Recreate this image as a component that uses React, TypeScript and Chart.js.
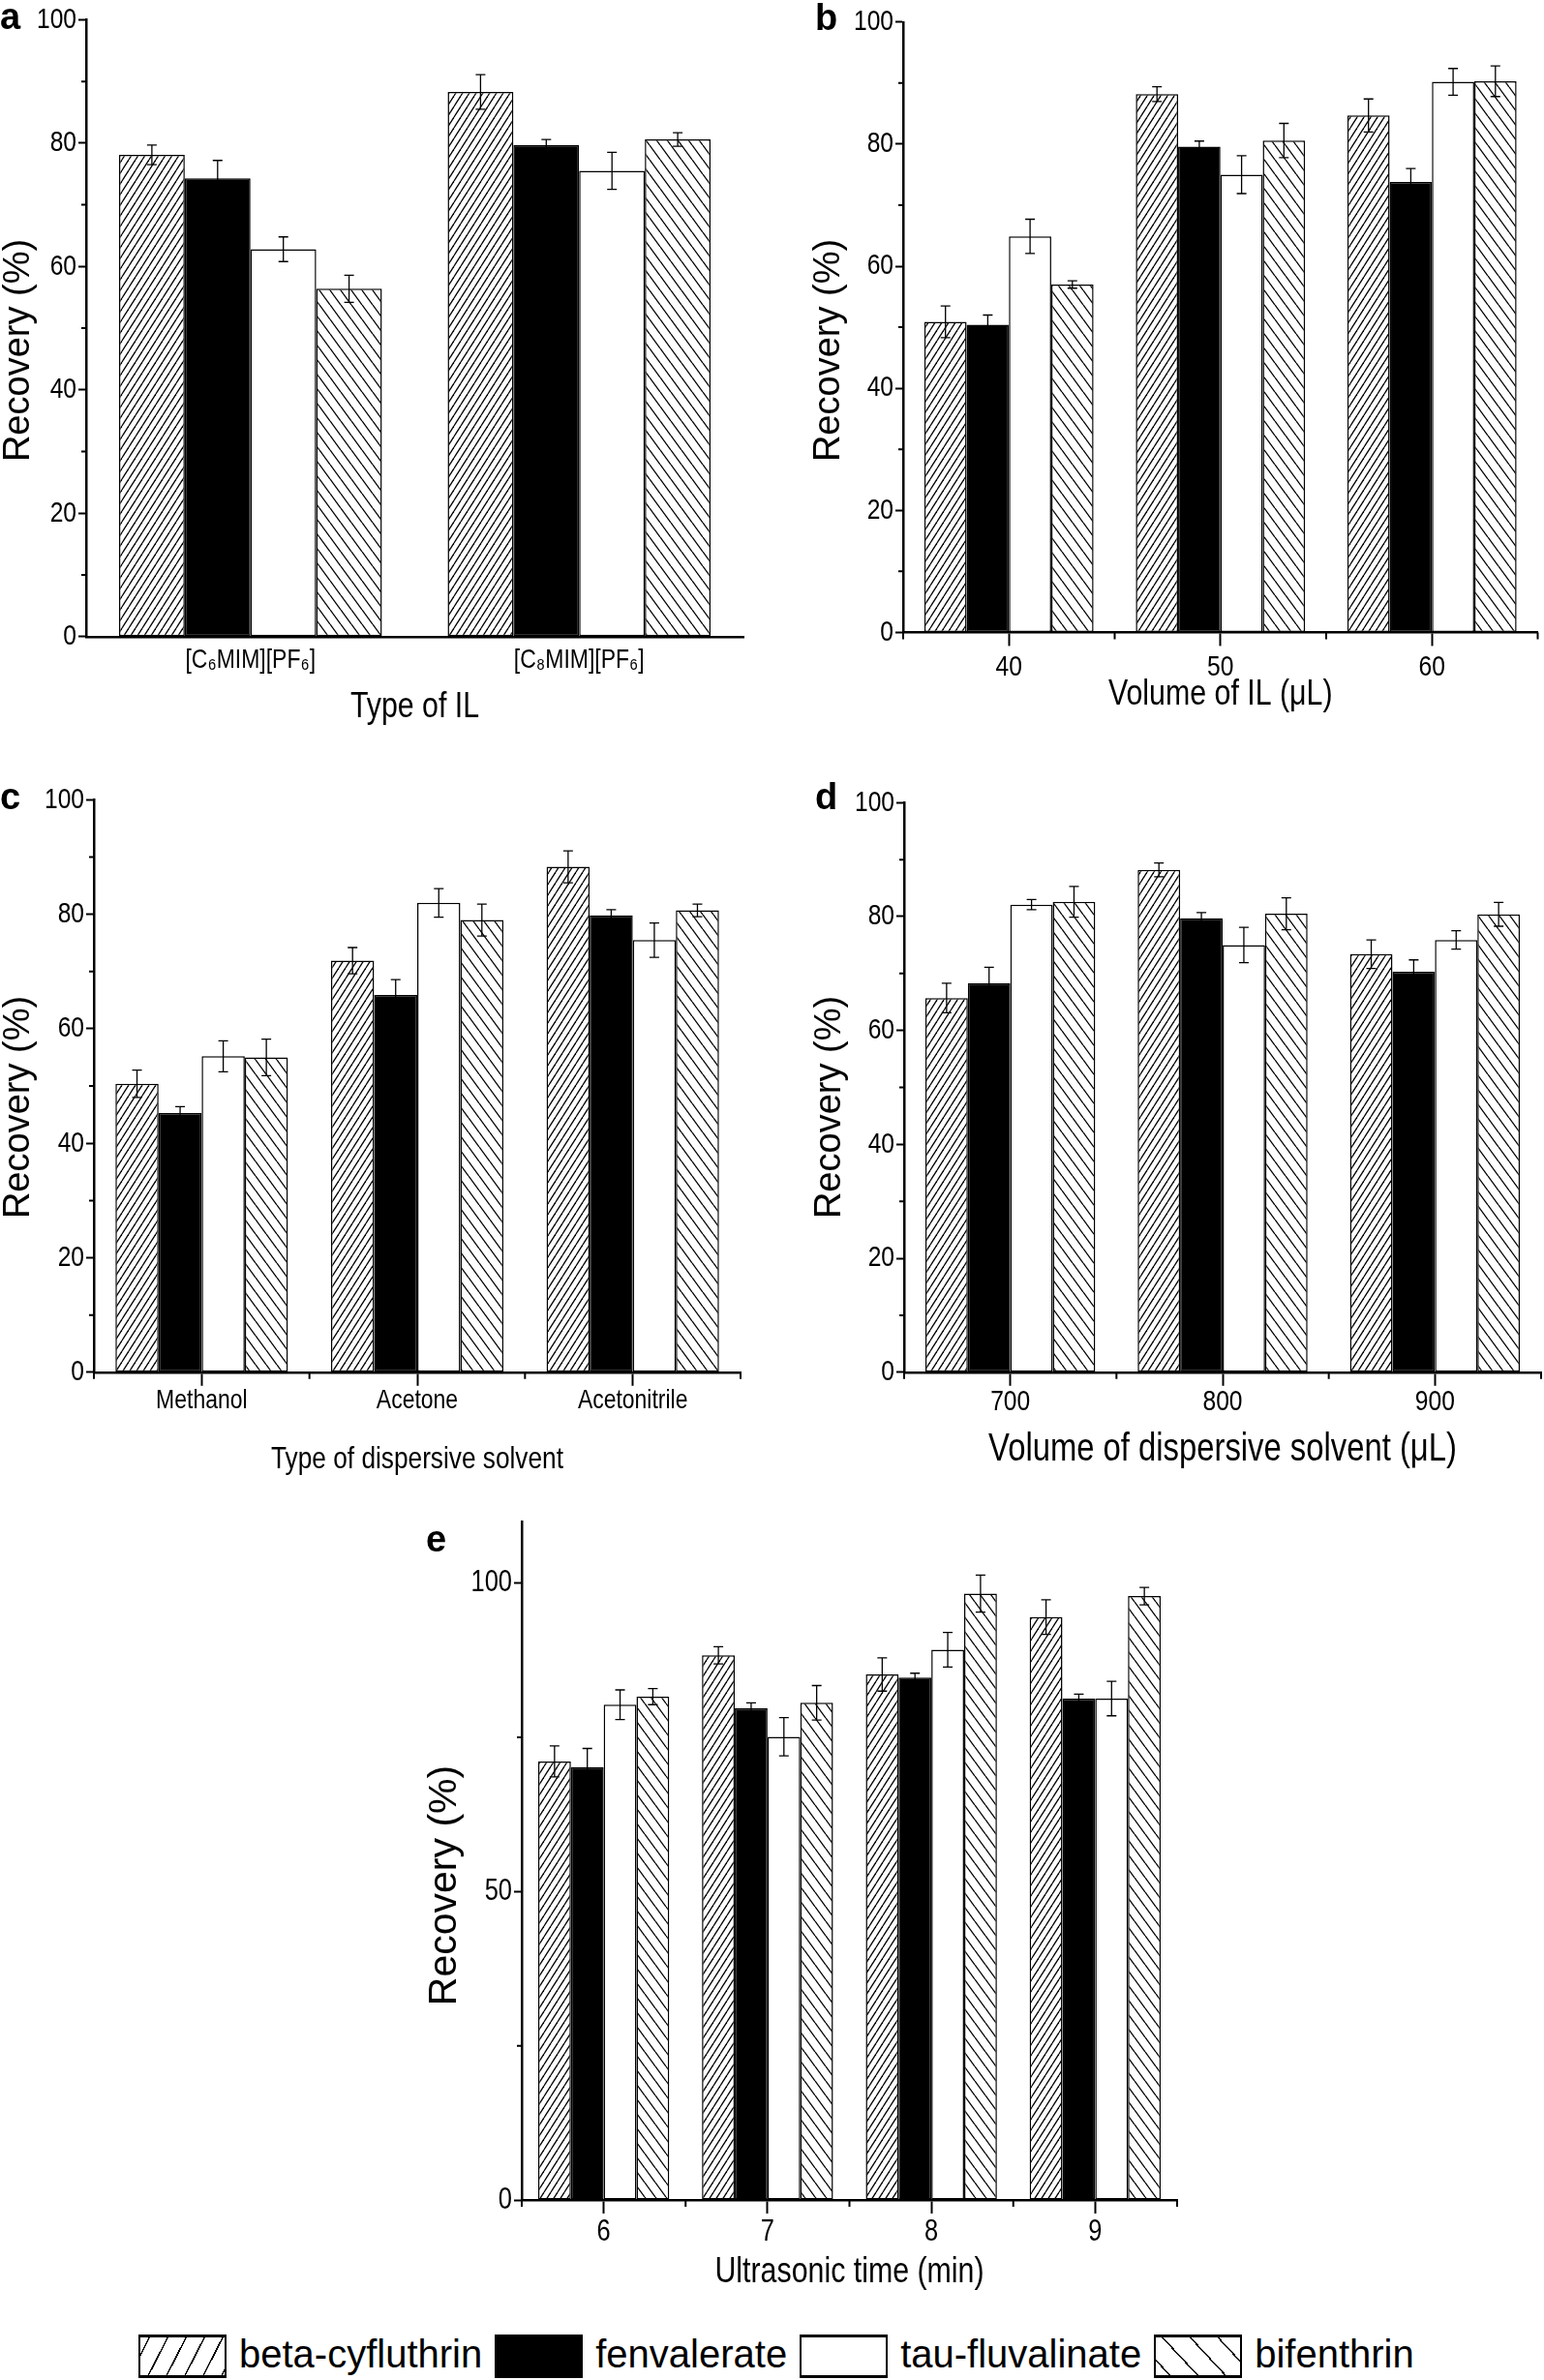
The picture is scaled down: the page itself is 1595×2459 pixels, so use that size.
import React, { useEffect, useRef } from 'react';
import { Chart, registerables } from 'chart.js';

Chart.register(...registerables);

// ---------------- data ----------------
const seriesNames = ['beta-cyfluthrin', 'fenvalerate', 'tau-fluvalinate', 'bifenthrin'];

// (a) Type of IL
const ilTypeLabels = ['[C\u2086MIM][PF\u2086]', '[C\u2088MIM][PF\u2086]'];
const ilTypeBeta = [78.1, 88.3];
const ilTypeFenv = [74.3, 79.7];
const ilTypeTau = [62.8, 75.5];
const ilTypeBif = [56.4, 80.6];
const ilTypeBetaErr = [1.6, 2.8];
const ilTypeFenvErr = [2.9, 0.9];
const ilTypeTauErr = [2.0, 3.0];
const ilTypeBifErr = [2.2, 1.1];

// (b) Volume of IL
const ilVolumeLabels = ['40', '50', '60'];
const ilVolumeBeta = [50.9, 88.2, 84.7];
const ilVolumeFenv = [50.4, 79.6, 73.8];
const ilVolumeTau = [64.9, 75.0, 90.2];
const ilVolumeBif = [57.0, 80.6, 90.3];
const ilVolumeBetaErr = [2.6, 1.2, 2.7];
const ilVolumeFenvErr = [1.6, 0.9, 2.2];
const ilVolumeTauErr = [2.8, 3.1, 2.2];
const ilVolumeBifErr = [0.6, 2.8, 2.5];

// (c) Type of dispersive solvent
const solventLabels = ['Methanol', 'Acetone', 'Acetonitrile'];
const solventBeta = [50.4, 71.9, 88.3];
const solventFenv = [45.3, 65.9, 79.8];
const solventTau = [55.2, 82.0, 75.5];
const solventBif = [55.0, 79.0, 80.7];
const solventBetaErr = [2.4, 2.3, 2.8];
const solventFenvErr = [1.1, 2.7, 1.0];
const solventTauErr = [2.7, 2.5, 3.0];
const solventBifErr = [3.2, 2.8, 1.1];

// (d) Volume of dispersive solvent
const dispVolumeLabels = ['700', '800', '900'];
const dispVolumeBeta = [65.7, 88.2, 73.4];
const dispVolumeFenv = [68.3, 79.7, 70.3];
const dispVolumeTau = [82.1, 75.0, 75.9];
const dispVolumeBif = [82.6, 80.5, 80.4];
const dispVolumeBetaErr = [2.6, 1.2, 2.5];
const dispVolumeFenvErr = [2.8, 1.0, 2.1];
const dispVolumeTauErr = [0.9, 3.1, 1.6];
const dispVolumeBifErr = [2.7, 2.8, 2.1];

// (e) Ultrasonic time
const timeLabels = ['6', '7', '8', '9'];
const timeBeta = [71.1, 88.3, 85.2, 94.5];
const timeFenv = [70.2, 79.7, 84.7, 81.3];
const timeTau = [80.3, 75.1, 89.2, 81.3];
const timeBif = [81.6, 80.6, 98.3, 97.9];
const timeBetaErr = [2.5, 1.4, 2.7, 2.8];
const timeFenvErr = [3.0, 0.9, 0.7, 0.7];
const timeTauErr = [2.4, 3.1, 2.8, 2.8];
const timeBifErr = [1.3, 2.8, 3.0, 1.4];

// y tick values
const yMajorTicks100 = [0, 20, 40, 60, 80, 100];
const yMinorTicks100 = [10, 30, 50, 70, 90];
const yMajorTicks110 = [0, 50, 100];
const yMinorTicks110 = [25, 75];

// ---------------- styles / layout ----------------
// "NarrowMark" is not a real font: text set in it is drawn with Liberation Sans squeezed
// horizontally (Arial Narrow look), see patchNarrow below.
const NARROW = 'NarrowMark, "Liberation Sans", Arial, sans-serif';
const NARROW_SCALE = 0.82;
const REGULAR = '"Liberation Sans", Arial, Helvetica, sans-serif';

type Panel = {
  letter: string;
  labels: string[];
  values: number[][];
  errors: number[][];
  yMax: number;
  yMajor: number[];
  yMinor: number[];
  xTitle: string;
  x: number; y: number; w: number; h: number;
  yW: number; padTop: number; padRight: number; xH: number;
  letterX: number; letterY: number;
  yTitleX: number; yTitleY: number; yTitleSize: number;
  xTitleSize: number; xTitlePad: number;
  xTickSize: number; xTickPad: number; xTicks: boolean;
  yTickSize: number;
};

const panels: Panel[] = [
  {
    letter: 'a', labels: ilTypeLabels,
    values: [ilTypeBeta, ilTypeFenv, ilTypeTau, ilTypeBif],
    errors: [ilTypeBetaErr, ilTypeFenvErr, ilTypeTauErr, ilTypeBifErr],
    yMax: 100, yMajor: yMajorTicks100, yMinor: yMinorTicks100, xTitle: 'Type of IL',
    x: 0, y: 0, w: 800, h: 780, yW: 89, padTop: 20.4, padRight: 32, xH: 122.2,
    letterX: 0, letterY: 30, yTitleX: 20, yTitleY: 362, yTitleSize: 38,
    xTitleSize: 37, xTitlePad: 27, xTickSize: 28, xTickPad: 8, xTicks: false, yTickSize: 30,
  },
  {
    letter: 'b', labels: ilVolumeLabels,
    values: [ilVolumeBeta, ilVolumeFenv, ilVolumeTau, ilVolumeBif],
    errors: [ilVolumeBetaErr, ilVolumeFenvErr, ilVolumeTauErr, ilVolumeBifErr],
    yMax: 100, yMajor: yMajorTicks100, yMinor: yMinorTicks100, xTitle: 'Volume of IL (\u03bcL)',
    x: 800, y: 0, w: 795, h: 780, yW: 133, padTop: 22.8, padRight: 6.5, xH: 126.6,
    letterX: 42, letterY: 31, yTitleX: 57, yTitleY: 362, yTitleSize: 38,
    xTitleSize: 37, xTitlePad: 40, xTickSize: 30, xTickPad: 4, xTicks: true, yTickSize: 30,
  },
  {
    letter: 'c', labels: solventLabels,
    values: [solventBeta, solventFenv, solventTau, solventBif],
    errors: [solventBetaErr, solventFenvErr, solventTauErr, solventBifErr],
    yMax: 100, yMajor: yMajorTicks100, yMinor: yMinorTicks100, xTitle: 'Type of dispersive solvent',
    x: 0, y: 780, w: 800, h: 770, yW: 97, padTop: 46.4, padRight: 35, xH: 132.2,
    letterX: 0, letterY: 56, yTitleX: 20, yTitleY: 364, yTitleSize: 38,
    xTitleSize: 32, xTitlePad: 23, xTickSize: 28, xTickPad: -1, xTicks: true, yTickSize: 30,
  },
  {
    letter: 'd', labels: dispVolumeLabels,
    values: [dispVolumeBeta, dispVolumeFenv, dispVolumeTau, dispVolumeBif],
    errors: [dispVolumeBetaErr, dispVolumeFenvErr, dispVolumeTauErr, dispVolumeBifErr],
    yMax: 100, yMajor: yMajorTicks100, yMinor: yMinorTicks100, xTitle: 'Volume of dispersive solvent (\u03bcL)',
    x: 800, y: 780, w: 795, h: 770, yW: 134, padTop: 49.3, padRight: 3, xH: 132.2,
    letterX: 42, letterY: 56, yTitleX: 58, yTitleY: 364, yTitleSize: 38,
    xTitleSize: 40, xTitlePad: 28, xTickSize: 30, xTickPad: -1, xTicks: true, yTickSize: 30,
  },
  {
    letter: 'e', labels: timeLabels,
    values: [timeBeta, timeFenv, timeTau, timeBif],
    errors: [timeBetaErr, timeFenvErr, timeTauErr, timeBifErr],
    yMax: 110, yMajor: yMajorTicks110, yMinor: yMinorTicks110, xTitle: 'Ultrasonic time (min)',
    x: 380, y: 1550, w: 900, h: 840, yW: 159, padTop: 22, padRight: 64, xH: 117,
    letterX: 60, letterY: 53, yTitleX: 80, yTitleY: 398, yTitleSize: 41,
    xTitleSize: 37, xTitlePad: 20, xTickSize: 31, xTickPad: 1, xTicks: true, yTickSize: 31,
  },
];

// ---------------- helpers ----------------
function patchNarrow(ctx: CanvasRenderingContext2D) {
  const anyCtx = ctx as any;
  if (anyCtx.__narrowPatched) return;
  anyCtx.__narrowPatched = true;
  const orig = ctx.fillText.bind(ctx);
  anyCtx.fillText = (text: string, x: number, y: number, maxWidth?: number) => {
    if (ctx.font.indexOf('NarrowMark') >= 0) {
      ctx.save();
      ctx.translate(x, y);
      ctx.scale(NARROW_SCALE, 1);
      if (maxWidth !== undefined) orig(text, 0, 0, maxWidth / NARROW_SCALE);
      else orig(text, 0, 0);
      ctx.restore();
    } else if (maxWidth !== undefined) {
      orig(text, x, y, maxWidth);
    } else {
      orig(text, x, y);
    }
  };
}

function makeHatch(ctx: CanvasRenderingContext2D, w: number, h: number, rising: boolean, lw: number) {
  const c = document.createElement('canvas');
  c.width = w; c.height = h;
  const g = c.getContext('2d')!;
  g.fillStyle = '#fff';
  g.fillRect(0, 0, w, h);
  g.strokeStyle = '#000';
  g.lineWidth = lw;
  for (const off of [-w, 0, w]) {
    g.beginPath();
    if (rising) { g.moveTo(off, h); g.lineTo(off + w, 0); }
    else { g.moveTo(off, 0); g.lineTo(off + w, h); }
    g.stroke();
  }
  return ctx.createPattern(c, 'repeat')!;
}

const errorBarPlugin = {
  id: 'errorBars',
  afterDatasetsDraw(chart: any) {
    const { ctx } = chart;
    const ys = chart.scales.y;
    ctx.save();
    ctx.strokeStyle = '#000';
    ctx.lineWidth = 1.3;
    chart.data.datasets.forEach((ds: any, i: number) => {
      const meta = chart.getDatasetMeta(i);
      meta.data.forEach((bar: any, j: number) => {
        const v = ds.data[j];
        const e = ds.errors[j];
        const x = bar.x;
        const yt = ys.getPixelForValue(v + e);
        const yb = ys.getPixelForValue(v - e);
        ctx.beginPath();
        ctx.moveTo(x, yt); ctx.lineTo(x, yb);
        ctx.moveTo(x - 5, yt); ctx.lineTo(x + 5, yt);
        ctx.moveTo(x - 5, yb); ctx.lineTo(x + 5, yb);
        ctx.stroke();
      });
    });
    ctx.restore();
  },
};

const minorTicksPlugin = {
  id: 'minorTicks',
  afterDraw(chart: any, _args: any, opts: any) {
    const { ctx, chartArea } = chart;
    const ys = chart.scales.y;
    const xs = chart.scales.x;
    ctx.save();
    ctx.strokeStyle = '#000';
    ctx.lineWidth = 2;
    ctx.beginPath();
    for (const v of opts.yMinor) {
      const py = ys.getPixelForValue(v);
      ctx.moveTo(chartArea.left - 5, py);
      ctx.lineTo(chartArea.left, py);
    }
    if (opts.xBoundary) {
      const n = chart.data.labels.length;
      for (let k = 0; k <= n; k++) {
        const px = xs.getPixelForValue(k - 0.5);
        ctx.moveTo(px, chartArea.bottom);
        ctx.lineTo(px, chartArea.bottom + 7);
      }
    }
    ctx.stroke();
    ctx.restore();
  },
};

const decorPlugin = {
  id: 'decor',
  afterDraw(chart: any, _args: any, opts: any) {
    const { ctx } = chart;
    ctx.save();
    ctx.fillStyle = '#000';
    ctx.textAlign = 'left';
    ctx.textBaseline = 'alphabetic';
    ctx.font = `bold 38px ${REGULAR}`;
    ctx.fillText(opts.letter, opts.letterX, opts.letterY);
    ctx.translate(opts.yTitleX, opts.yTitleY);
    ctx.rotate(-Math.PI / 2);
    ctx.textAlign = 'center';
    ctx.textBaseline = 'middle';
    ctx.font = `${opts.yTitleSize}px ${REGULAR}`;
    ctx.fillText(opts.yTitle, 0, 0);
    ctx.restore();
  },
};

function PanelChart({ p }: { p: Panel }) {
  const ref = useRef<HTMLCanvasElement>(null);
  useEffect(() => {
    const canvas = ref.current!;
    const ctx = canvas.getContext('2d')!;
    patchNarrow(ctx);
    const fills: any[] = [makeHatch(ctx, 7, 11, true, 1.3), '#000', '#fff', makeHatch(ctx, 11, 15, false, 1.3)];
    const chart = new Chart(canvas, {
      type: 'bar',
      data: {
        labels: p.labels,
        datasets: seriesNames.map((name, i) => ({
          label: name,
          data: p.values[i],
          errors: p.errors[i],
          backgroundColor: fills[i],
          borderColor: '#000',
          borderWidth: 1.5,
          borderSkipped: false,
          categoryPercentage: 0.8,
          barPercentage: 1.0,
        })) as any,
      },
      options: {
        responsive: false,
        animation: false,
        devicePixelRatio: 1,
        events: [],
        layout: { padding: { top: p.padTop, right: p.padRight, bottom: 0, left: 0 } },
        plugins: {
          legend: { display: false },
          tooltip: { enabled: false },
          minorTicks: { yMinor: p.yMinor, xBoundary: p.xTicks },
          decor: {
            letter: p.letter, letterX: p.letterX, letterY: p.letterY,
            yTitle: 'Recovery (%)', yTitleX: p.yTitleX, yTitleY: p.yTitleY, yTitleSize: p.yTitleSize,
          },
        } as any,
        scales: {
          x: {
            type: 'category',
            offset: true,
            grid: {
              display: true, drawOnChartArea: false, drawTicks: p.xTicks, tickLength: 14,
              color: '#000', tickColor: '#000', tickWidth: 2, offset: false,
            },
            border: { display: true, color: '#000', width: 2.5 },
            ticks: {
              color: '#000', font: { family: NARROW, size: p.xTickSize }, padding: p.xTickPad,
              maxRotation: 0, autoSkip: false,
            },
            title: {
              display: true, text: p.xTitle, color: '#000',
              font: { family: NARROW, size: p.xTitleSize }, padding: { top: 0, bottom: p.xTitlePad },
            },
            afterFit: (s: any) => { s.height = p.xH; },
          },
          y: {
            type: 'linear',
            min: 0,
            max: p.yMax,
            afterBuildTicks: (s: any) => { s.ticks = p.yMajor.map((v) => ({ value: v })); },
            grid: {
              display: true, drawOnChartArea: false, drawTicks: true, tickLength: 8,
              color: '#000', tickColor: '#000', tickWidth: 2,
            },
            border: { display: true, color: '#000', width: 2.5 },
            ticks: {
              color: '#000', font: { family: NARROW, size: p.yTickSize }, padding: 2,
              callback: (v: any) => String(v),
            },
            afterFit: (s: any) => { s.width = p.yW; },
          },
        } as any,
      },
      plugins: [errorBarPlugin, minorTicksPlugin, decorPlugin],
    });
    return () => chart.destroy();
  }, [p]);
  return (
    <canvas
      ref={ref}
      width={p.w}
      height={p.h}
      style={{ position: 'absolute', left: p.x, top: p.y, width: p.w, height: p.h }}
    />
  );
}

const legendSwatches = [
  'repeating-linear-gradient(117deg, #fff 0 7.5px, #000 7.5px 9px, #fff 9px 16.9px)',
  '#000',
  '#fff',
  'repeating-linear-gradient(47deg, #fff 0 9.8px, #000 9.8px 11.3px, #fff 11.3px 21px)',
];

function Legend() {
  return (
    <div
      style={{
        position: 'absolute', left: 143, top: 2412, height: 45,
        display: 'flex', alignItems: 'center', whiteSpace: 'nowrap',
        fontFamily: REGULAR, fontSize: 40, lineHeight: 1, color: '#000',
      }}
    >
      {seriesNames.map((name, i) => (
        <React.Fragment key={name}>
          <div
            style={{
              boxSizing: 'border-box', width: 91, height: 45, marginLeft: i === 0 ? 0 : 13,
              borderStyle: 'solid', borderColor: '#000', borderWidth: '3px 2px 3px 2px',
              background: legendSwatches[i],
            }}
          />
          <span style={{ marginLeft: 13, position: 'relative', top: -3 }}>{name}</span>
        </React.Fragment>
      ))}
    </div>
  );
}

export default function App() {
  return (
    <div style={{ position: 'absolute', left: 0, top: 0, width: 1595, height: 2459, background: '#fff', overflow: 'hidden' }}>
      {panels.map((p) => (
        <PanelChart key={p.letter} p={p} />
      ))}
      <Legend />
    </div>
  );
}
